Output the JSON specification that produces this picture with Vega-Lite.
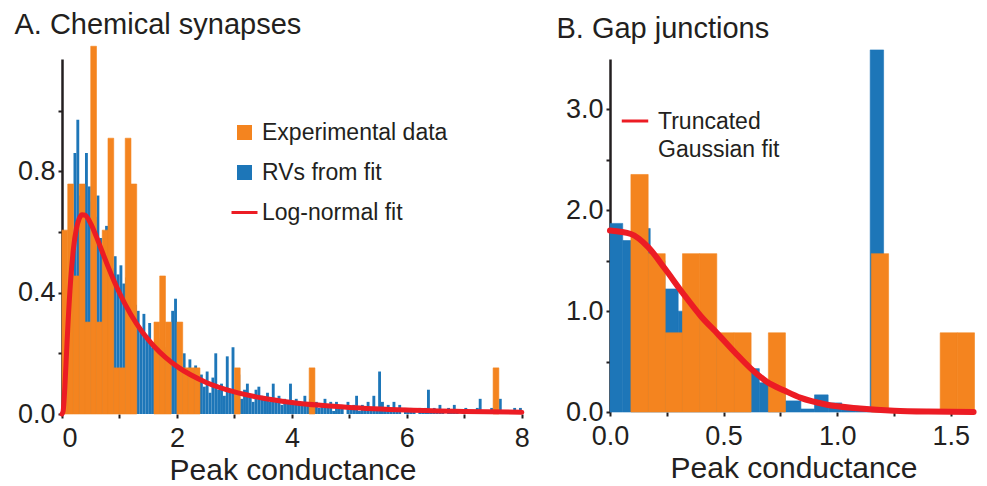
{
  "$schema": "https://vega.github.io/schema/vega-lite/v6.json",
  "background": "white",
  "padding": {"left": 14, "top": 10, "right": 4, "bottom": 0},
  "spacing": 24,
  "config": {
    "view": {"stroke": null},
    "font": "Liberation Sans",
    "axis": {"domainColor": "#231f20", "domainWidth": 2.5, "tickColor": "#231f20", "tickWidth": 2, "tickSize": 4, "labelFont": "Liberation Sans", "labelFontSize": 27, "labelColor": "#231f20", "labelPadding": 3, "titleFont": "Liberation Sans", "titleFontSize": 30, "titleFontWeight": "normal", "titleColor": "#231f20", "titlePadding": 4, "grid": false, "zindex": 1},
    "axisX": {"labelPadding": 7},
    "title": {"font": "Liberation Sans", "fontSize": 29, "fontWeight": "normal", "color": "#231f20", "anchor": "start", "frame": "bounds"}
  },
  "resolve": {"scale": {"color": "independent"}, "legend": {"color": "independent"}},
  "datasets": {
    "blueA": [
      {"x":0,"x2":0.05,"h":0.06},{"x":0.05,"x2":0.1,"h":0.22},{"x":0.1,"x2":0.15,"h":0.38},{"x":0.15,"x2":0.2,"h":0.5},
      {"x":0.2,"x2":0.25,"h":0.86},{"x":0.25,"x2":0.3,"h":0.97},{"x":0.3,"x2":0.35,"h":0.72},{"x":0.35,"x2":0.4,"h":0.6},
      {"x":0.4,"x2":0.45,"h":0.86},{"x":0.45,"x2":0.5,"h":0.75},{"x":0.5,"x2":0.55,"h":0.7},{"x":0.55,"x2":0.6,"h":0.65},
      {"x":0.6,"x2":0.65,"h":0.72},{"x":0.65,"x2":0.7,"h":0.58},{"x":0.7,"x2":0.75,"h":0.55},{"x":0.75,"x2":0.8,"h":0.62},
      {"x":0.8,"x2":0.85,"h":0.52},{"x":0.85,"x2":0.9,"h":0.48},{"x":0.9,"x2":0.95,"h":0.52},{"x":0.95,"x2":1.0,"h":0.46},
      {"x":1.0,"x2":1.05,"h":0.49},{"x":1.05,"x2":1.1,"h":0.43},{"x":1.1,"x2":1.15,"h":0.45},{"x":1.15,"x2":1.2,"h":0.38},
      {"x":1.2,"x2":1.25,"h":0.4},{"x":1.25,"x2":1.3,"h":0.36},{"x":1.3,"x2":1.35,"h":0.34},{"x":1.35,"x2":1.4,"h":0.28},
      {"x":1.4,"x2":1.45,"h":0.33},{"x":1.45,"x2":1.5,"h":0.25},{"x":1.5,"x2":1.55,"h":0.3},{"x":1.55,"x2":1.6,"h":0.22},
      {"x":1.6,"x2":1.65,"h":0.26},{"x":1.65,"x2":1.7,"h":0.22},{"x":1.7,"x2":1.75,"h":0.25},{"x":1.75,"x2":1.8,"h":0.21},
      {"x":1.8,"x2":1.85,"h":0.22},{"x":1.85,"x2":1.9,"h":0.17},{"x":1.9,"x2":1.95,"h":0.34},{"x":1.95,"x2":2.0,"h":0.38},
      {"x":2.0,"x2":2.05,"h":0.16},{"x":2.05,"x2":2.1,"h":0.14},{"x":2.1,"x2":2.15,"h":0.2},{"x":2.15,"x2":2.2,"h":0.13},
      {"x":2.2,"x2":2.25,"h":0.18},{"x":2.25,"x2":2.3,"h":0.12},{"x":2.3,"x2":2.35,"h":0.16},{"x":2.35,"x2":2.4,"h":0.11},
      {"x":2.4,"x2":2.45,"h":0.13},{"x":2.45,"x2":2.5,"h":0.09},{"x":2.5,"x2":2.55,"h":0.14},{"x":2.55,"x2":2.6,"h":0.07},
      {"x":2.6,"x2":2.65,"h":0.12},{"x":2.65,"x2":2.7,"h":0.2},{"x":2.7,"x2":2.75,"h":0.08},{"x":2.75,"x2":2.8,"h":0.1},
      {"x":2.8,"x2":2.85,"h":0.06},{"x":2.85,"x2":2.9,"h":0.19},{"x":2.9,"x2":2.95,"h":0.08},{"x":2.95,"x2":3.0,"h":0.22},
      {"x":3.0,"x2":3.05,"h":0.07},{"x":3.05,"x2":3.1,"h":0.13},{"x":3.1,"x2":3.15,"h":0.05},{"x":3.15,"x2":3.2,"h":0.08},
      {"x":3.2,"x2":3.25,"h":0.1},{"x":3.25,"x2":3.3,"h":0.06},{"x":3.3,"x2":3.35,"h":0.04},{"x":3.35,"x2":3.4,"h":0.08},
      {"x":3.4,"x2":3.45,"h":0.09},{"x":3.45,"x2":3.5,"h":0.06},{"x":3.5,"x2":3.55,"h":0.05},{"x":3.55,"x2":3.6,"h":0.07},
      {"x":3.6,"x2":3.65,"h":0.04},{"x":3.65,"x2":3.7,"h":0.1},{"x":3.7,"x2":3.75,"h":0.05},{"x":3.75,"x2":3.8,"h":0.06},
      {"x":3.8,"x2":3.85,"h":0.03},{"x":3.85,"x2":3.9,"h":0.05},{"x":3.9,"x2":3.95,"h":0.04},{"x":3.95,"x2":4.0,"h":0.1},
      {"x":4.0,"x2":4.05,"h":0.03},{"x":4.05,"x2":4.1,"h":0.05},{"x":4.1,"x2":4.15,"h":0.04},{"x":4.15,"x2":4.2,"h":0.03},
      {"x":4.2,"x2":4.25,"h":0.06},{"x":4.25,"x2":4.3,"h":0.03},{"x":4.3,"x2":4.35,"h":0.05},{"x":4.35,"x2":4.4,"h":0.02},
      {"x":4.4,"x2":4.45,"h":0.04},{"x":4.45,"x2":4.5,"h":0.02},{"x":4.5,"x2":4.55,"h":0.03},{"x":4.55,"x2":4.6,"h":0.05},
      {"x":4.6,"x2":4.65,"h":0.02},{"x":4.65,"x2":4.7,"h":0.04},{"x":4.7,"x2":4.75,"h":0.01},{"x":4.75,"x2":4.8,"h":0.04},
      {"x":4.8,"x2":4.85,"h":0.02},{"x":4.85,"x2":4.9,"h":0.03},{"x":4.95,"x2":5.0,"h":0.04},
      {"x":5.0,"x2":5.05,"h":0.02},{"x":5.05,"x2":5.1,"h":0.03},{"x":5.1,"x2":5.15,"h":0.06},{"x":5.15,"x2":5.2,"h":0.01},
      {"x":5.2,"x2":5.25,"h":0.03},{"x":5.25,"x2":5.3,"h":0.02},{"x":5.3,"x2":5.35,"h":0.04},{"x":5.35,"x2":5.4,"h":0.02},
      {"x":5.4,"x2":5.45,"h":0.06},{"x":5.45,"x2":5.5,"h":0.02},{"x":5.5,"x2":5.55,"h":0.14},{"x":5.55,"x2":5.6,"h":0.04},
      {"x":5.6,"x2":5.65,"h":0.02},{"x":5.65,"x2":5.7,"h":0.03},{"x":5.7,"x2":5.75,"h":0.01},{"x":5.75,"x2":5.8,"h":0.04},
      {"x":5.8,"x2":5.85,"h":0.02},{"x":5.85,"x2":5.9,"h":0.03},{"x":5.95,"x2":6.0,"h":0.02},
      {"x":6.0,"x2":6.05,"h":0.01},{"x":6.05,"x2":6.1,"h":0.02},{"x":6.1,"x2":6.15,"h":0.01},
      {"x":6.2,"x2":6.25,"h":0.02},{"x":6.25,"x2":6.3,"h":0.01},{"x":6.3,"x2":6.35,"h":0.02},{"x":6.35,"x2":6.4,"h":0.08},
      {"x":6.4,"x2":6.45,"h":0.01},{"x":6.45,"x2":6.5,"h":0.02},{"x":6.5,"x2":6.55,"h":0.01},{"x":6.55,"x2":6.6,"h":0.03},
      {"x":6.6,"x2":6.65,"h":0.01},{"x":6.7,"x2":6.75,"h":0.02},{"x":6.75,"x2":6.8,"h":0.01},
      {"x":6.8,"x2":6.85,"h":0.03},{"x":6.85,"x2":6.9,"h":0.01},{"x":6.95,"x2":7.0,"h":0.01},
      {"x":7.0,"x2":7.05,"h":0.02},{"x":7.05,"x2":7.1,"h":0.01},{"x":7.15,"x2":7.2,"h":0.01},
      {"x":7.2,"x2":7.25,"h":0.02},{"x":7.25,"x2":7.3,"h":0.05},{"x":7.3,"x2":7.35,"h":0.01},
      {"x":7.4,"x2":7.45,"h":0.01},{"x":7.45,"x2":7.5,"h":0.02},{"x":7.5,"x2":7.55,"h":0.01},
      {"x":7.6,"x2":7.65,"h":0.05},{"x":7.65,"x2":7.7,"h":0.01},{"x":7.75,"x2":7.8,"h":0.01},
      {"x":7.85,"x2":7.9,"h":0.02},{"x":7.9,"x2":7.95,"h":0.01},{"x":7.95,"x2":8.0,"h":0.02}
    ],
    "orangeA": [
      {"x":0,"x2":0.1,"h":0.606},{"x":0.1,"x2":0.2,"h":0.758},{"x":0.2,"x2":0.3,"h":0.455},{"x":0.3,"x2":0.4,"h":0.758},
      {"x":0.4,"x2":0.5,"h":0.303},{"x":0.5,"x2":0.6,"h":1.212},{"x":0.6,"x2":0.7,"h":0.303},{"x":0.7,"x2":0.8,"h":0.606},
      {"x":0.8,"x2":0.9,"h":0.909},{"x":0.9,"x2":1.0,"h":0.152},{"x":1.0,"x2":1.1,"h":0.152},{"x":1.1,"x2":1.2,"h":0.909},
      {"x":1.2,"x2":1.3,"h":0.758},{"x":1.6,"x2":1.7,"h":0.303},{"x":1.7,"x2":1.8,"h":0.455},{"x":1.8,"x2":1.9,"h":0.303},
      {"x":2.0,"x2":2.1,"h":0.303},{"x":2.1,"x2":2.2,"h":0.152},{"x":2.2,"x2":2.3,"h":0.152},{"x":2.3,"x2":2.4,"h":0.152},
      {"x":3.0,"x2":3.1,"h":0.152},{"x":4.3,"x2":4.4,"h":0.152},{"x":7.5,"x2":7.6,"h":0.152}
    ],
    "lineA": [
      {"x":0,"y":0},{"x":0.02,"y":0.0095},{"x":0.05,"y":0.0898},{"x":0.08,"y":0.2053},{"x":0.1,"y":0.2815},
      {"x":0.15,"y":0.4399},{"x":0.2,"y":0.5462},{"x":0.25,"y":0.6104},{"x":0.3,"y":0.6442},{"x":0.35,"y":0.657},
      {"x":0.4,"y":0.6555},{"x":0.5,"y":0.6276},{"x":0.6,"y":0.5836},{"x":0.7,"y":0.5348},{"x":0.8,"y":0.4864},
      {"x":0.9,"y":0.4408},{"x":1.0,"y":0.3989},{"x":1.2,"y":0.327},{"x":1.4,"y":0.2693},{"x":1.6,"y":0.2233},
      {"x":1.8,"y":0.1865},{"x":2.0,"y":0.1569},{"x":2.5,"y":0.1049},{"x":3.0,"y":0.0727},{"x":3.5,"y":0.052},
      {"x":4.0,"y":0.0381},{"x":4.5,"y":0.0286},{"x":5.0,"y":0.0218},{"x":6.0,"y":0.0134},{"x":7.0,"y":0.0086},{"x":8.0,"y":0.0057}
    ],
    "blueB": [
      {"x":0,"x2":0.056,"h":1.87},{"x":0.056,"x2":0.113,"h":1.7},{"x":0.113,"x2":0.177,"h":1.82},{"x":0.177,"x2":0.242,"h":1.5},
      {"x":0.242,"x2":0.3,"h":1.22},{"x":0.3,"x2":0.356,"h":1.0},{"x":0.356,"x2":0.415,"h":0.95},{"x":0.415,"x2":0.474,"h":0.8},
      {"x":0.474,"x2":0.534,"h":0.62},{"x":0.534,"x2":0.593,"h":0.55},{"x":0.593,"x2":0.657,"h":0.43},{"x":0.657,"x2":0.711,"h":0.29},
      {"x":0.711,"x2":0.771,"h":0.2},{"x":0.771,"x2":0.84,"h":0.11},{"x":0.84,"x2":0.9,"h":0.03},{"x":0.9,"x2":0.96,"h":0.17},
      {"x":0.96,"x2":1.02,"h":0.09},{"x":1.02,"x2":1.08,"h":0.03},{"x":1.08,"x2":1.145,"h":0.02},{"x":1.145,"x2":1.204,"h":3.59}
    ],
    "orangeB": [
      {"x":0.092,"x2":0.168,"h":2.355},{"x":0.168,"x2":0.243,"h":1.57},{"x":0.243,"x2":0.319,"h":0.785},{"x":0.319,"x2":0.394,"h":1.57},
      {"x":0.394,"x2":0.47,"h":1.57},{"x":0.47,"x2":0.546,"h":0.785},{"x":0.546,"x2":0.621,"h":0.785},{"x":0.697,"x2":0.772,"h":0.785},
      {"x":1.15,"x2":1.226,"h":1.57},{"x":1.453,"x2":1.529,"h":0.785},{"x":1.529,"x2":1.604,"h":0.785}
    ],
    "lineB": [
      {"x":0,"y":1.8},{"x":0.092,"y":1.765},{"x":0.168,"y":1.635},{"x":0.242,"y":1.42},{"x":0.32,"y":1.18},
      {"x":0.4,"y":0.95},{"x":0.476,"y":0.77},{"x":0.55,"y":0.59},{"x":0.62,"y":0.43},{"x":0.69,"y":0.3},
      {"x":0.77,"y":0.21},{"x":0.84,"y":0.14},{"x":0.95,"y":0.075},{"x":1.1,"y":0.035},{"x":1.25,"y":0.012},
      {"x":1.4,"y":0.004},{"x":1.6,"y":0.001}
    ]
  },
  "hconcat": [
    {
      "width": 461,
      "height": 355,
      "title": {"text": "A. Chemical synapses", "dx": -3, "offset": 6},
      "layer": [
        {
          "data": {"name": "blueA"},
          "mark": {"type": "rect", "clip": false},
          "encoding": {
            "x": {"field": "x", "type": "quantitative", "scale": {"domain": [0, 8.02], "nice": false, "zero": false},
                  "axis": {"values": [0,1,2,3,4,5,6,7,8], "domain": false, "title": "Peak conductance", "labelFlush": true,
                           "labelExpr": "datum.value % 2 === 0 ? format(datum.value, 'd') : ''"}},
            "x2": {"field": "x2"},
            "y": {"field": "h", "type": "quantitative", "scale": {"domain": [0, 1.17], "nice": false},
                  "axis": {"values": [0,0.2,0.4,0.6,0.8,1.0], "format": ".1f", "title": null,
                           "labelExpr": "datum.value === 0 || datum.value === 0.4 || datum.value === 0.8 ? datum.label : ''"}},
            "y2": {"datum": 0},
            "color": {"datum": "RVs from fit", "type": "nominal",
                      "scale": {"domain": ["Experimental data", "RVs from fit", "Log-normal fit"], "range": ["#f4841f", "#1d76b8", "#ec1c24"]},
                      "legend": {"orient": "none", "legendX": 171, "legendY": 62, "title": null, "padding": 0,
                                 "labelFont": "Liberation Sans", "labelFontSize": 23, "labelColor": "#231f20", "labelLimit": 400,
                                 "symbolSize": 676, "symbolType": "square", "rowPadding": 16, "labelOffset": 6,
                                 "encode": {"symbols": {"update": {
                                   "shape": {"signal": "datum.value === 'Log-normal fit' ? 'stroke' : 'square'"},
                                   "size": {"signal": "datum.value === 'Log-normal fit' ? 676 : 225"},
                                   "fill": {"signal": "datum.value === 'Experimental data' ? '#f4841f' : datum.value === 'RVs from fit' ? '#1d76b8' : 'transparent'"},
                                   "stroke": {"signal": "datum.value === 'Log-normal fit' ? '#ec1c24' : 'transparent'"},
                                   "strokeWidth": {"signal": "datum.value === 'Log-normal fit' ? 3 : 0"},
                                   "opacity": {"value": 1}
                                 }}}}}
          }
        },
        {
          "data": {"name": "orangeA"},
          "mark": {"type": "rect", "clip": false, "stroke": "#f4841f", "strokeWidth": 0.6},
          "encoding": {
            "x": {"field": "x", "type": "quantitative"},
            "x2": {"field": "x2"},
            "y": {"field": "h", "type": "quantitative"},
            "y2": {"datum": 0},
            "color": {"datum": "Experimental data", "type": "nominal"}
          }
        },
        {
          "data": {"name": "lineA"},
          "mark": {"type": "line", "strokeWidth": 5, "interpolate": "monotone", "strokeCap": "round"},
          "encoding": {
            "x": {"field": "x", "type": "quantitative"},
            "y": {"field": "y", "type": "quantitative"},
            "color": {"datum": "Log-normal fit", "type": "nominal"}
          }
        }
      ]
    },
    {
      "width": 367,
      "height": 353,
      "title": {"text": "B. Gap junctions", "dx": -9, "offset": 6},
      "layer": [
        {
          "data": {"name": "blueB"},
          "mark": {"type": "rect", "clip": false, "color": "#1d76b8", "stroke": "#1d76b8", "strokeWidth": 0.6},
          "encoding": {
            "x": {"field": "x", "type": "quantitative", "scale": {"domain": [0, 1.615], "nice": false, "zero": false},
                  "axis": {"values": [0,0.25,0.5,0.75,1,1.25,1.5], "domain": false, "title": "Peak conductance", "format": ".1f", "labelFlush": false,
                           "labelExpr": "datum.value === 0 || datum.value === 0.5 || datum.value === 1 || datum.value === 1.5 ? datum.label : ''"}},
            "x2": {"field": "x2"},
            "y": {"field": "h", "type": "quantitative", "scale": {"domain": [0, 3.5], "nice": false},
                  "axis": {"values": [0,0.5,1,1.5,2,2.5,3], "format": ".1f", "title": null,
                           "labelExpr": "datum.value === 0 || datum.value === 1 || datum.value === 2 || datum.value === 3 ? datum.label : ''"}},
            "y2": {"datum": 0}
          }
        },
        {
          "data": {"name": "orangeB"},
          "mark": {"type": "rect", "clip": false, "color": "#f4841f", "stroke": "#f4841f", "strokeWidth": 0.6},
          "encoding": {
            "x": {"field": "x", "type": "quantitative"},
            "x2": {"field": "x2"},
            "y": {"field": "h", "type": "quantitative"},
            "y2": {"datum": 0}
          }
        },
        {
          "data": {"name": "lineB"},
          "mark": {"type": "line", "strokeWidth": 6, "interpolate": "monotone", "strokeCap": "round"},
          "encoding": {
            "x": {"field": "x", "type": "quantitative"},
            "y": {"field": "y", "type": "quantitative"},
            "color": {"datum": "Truncated Gaussian fit", "type": "nominal",
                      "scale": {"domain": ["Truncated Gaussian fit"], "range": ["#ec1c24"]},
                      "legend": {"orient": "none", "legendX": 10, "legendY": 47, "title": null, "padding": 0,
                                 "labelFont": "Liberation Sans", "labelFontSize": 23, "labelColor": "#231f20", "labelLimit": 400,
                                 "symbolSize": 700, "symbolType": "stroke", "symbolStrokeWidth": 3, "labelOffset": 8,
                                 "labelExpr": "['Truncated', 'Gaussian fit']",
                                 "encode": {"labels": {"update": {"dy": {"value": 1}, "lineHeight": {"value": 28}}}}}}
          }
        }
      ]
    }
  ]
}
